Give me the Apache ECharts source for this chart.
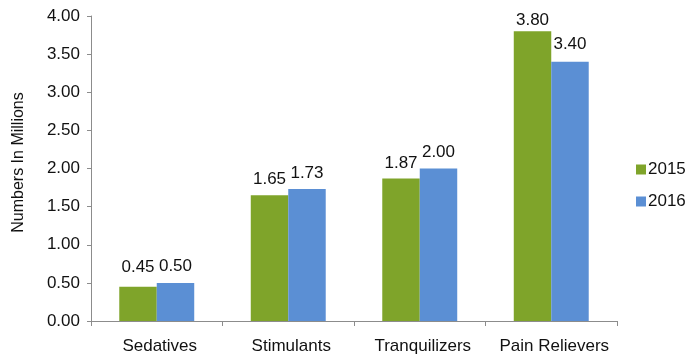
<!DOCTYPE html>
<html>
<head>
<meta charset="utf-8">
<script src="https://cdn.jsdelivr.net/npm/echarts@6/dist/echarts.min.js"></script>
<style>
  html, body { margin: 0; padding: 0; background: #fff; }
  #chart { width: 691px; height: 356px; }
</style>
</head>
<body>
<div id="chart"></div>
<script>
// Drug categories and yearly counts (millions)
const categories = ['Sedatives', 'Stimulants', 'Tranquilizers', 'Pain Relievers'];
const values2015 = [0.45, 1.65, 1.87, 3.80];
const values2016 = [0.50, 1.73, 2.00, 3.40];
const seriesNames = ['2015', '2016'];

// Gap between each value label and its bar top (px)
const labelGap2015 = [11, 7, 7, 2];
const labelGap2016 = [8, 7, 8, 9];

const chart = echarts.init(document.getElementById('chart'), null, { renderer: 'canvas' });
const font = 'Liberation Sans, Arial, Helvetica, sans-serif';
const ink = '#111';
const axisGray = '#8c8c8c';

function labelStyle(distance) {
  return {
    show: true,
    position: 'top',
    distance: distance,
    color: ink,
    fontSize: 17,
    fontFamily: font,
    formatter: p => Number(p.value).toFixed(2)
  };
}

function barData(values, gaps) {
  return values.map((v, i) => ({ value: v, label: labelStyle(gaps[i]) }));
}

chart.setOption({
  animation: false,
  textStyle: { fontFamily: font },
  grid: { left: 91, right: 74, top: 16, bottom: 35, containLabel: false },
  legend: {
    orient: 'vertical',
    left: 631,
    top: 156,
    itemWidth: 10,
    itemHeight: 10,
    itemGap: 15,
    icon: 'rect',
    textStyle: { fontSize: 17, color: ink, fontFamily: font, padding: [0, 0, 0, -3] },
    data: seriesNames
  },
  xAxis: {
    type: 'category',
    data: categories,
    axisLine: { lineStyle: { color: axisGray, width: 1 } },
    axisTick: { show: true, length: 5, alignWithLabel: false, interval: 0, lineStyle: { color: axisGray } },
    axisLabel: {
      color: ink, fontSize: 17, margin: 17, fontFamily: font,
      interval: 0, hideOverlap: false, padding: [0, 0, 0, 6]
    }
  },
  yAxis: {
    type: 'value',
    min: 0,
    max: 4,
    interval: 0.5,
    name: 'Numbers In Millions',
    nameLocation: 'middle',
    nameGap: 64,
    nameTextStyle: { color: ink, fontSize: 16, fontFamily: font, padding: [0, 0, 0, 12] },
    axisLine: { show: true, lineStyle: { color: axisGray, width: 1 } },
    axisTick: { show: true, length: 4, lineStyle: { color: axisGray } },
    splitLine: { show: false },
    axisLabel: {
      color: ink,
      fontSize: 17,
      margin: 11,
      fontFamily: font,
      formatter: v => v.toFixed(2)
    }
  },
  series: [
    {
      name: seriesNames[0],
      type: 'bar',
      data: barData(values2015, labelGap2015),
      barGap: '0%',
      barCategoryGap: '43%',
      itemStyle: { color: '#7fa42a' }
    },
    {
      name: seriesNames[1],
      type: 'bar',
      data: barData(values2016, labelGap2016),
      barGap: '0%',
      barCategoryGap: '43%',
      itemStyle: { color: '#5b8fd4' }
    }
  ]
});
</script>
</body>
</html>
